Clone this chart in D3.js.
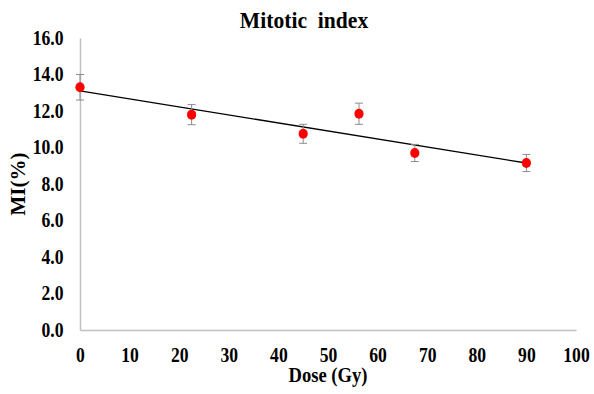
<!DOCTYPE html>
<html>
<head>
<meta charset="utf-8">
<script src="https://cdn.jsdelivr.net/npm/d3@7"></script>
<style>
  body { margin: 0; background: #fff; }
  text { font-family: "Liberation Serif", "Times New Roman", serif; font-weight: bold; fill: #000; }
</style>
</head>
<body>
<svg id="chart" width="594" height="394"></svg>
<script>
// values
const doses = [0, 22.5, 45, 56.25, 67.5, 90]
const miValues = [13.3, 11.8, 10.75, 11.85, 9.7, 9.15]
const miErrors = [0.7, 0.55, 0.52, 0.58, 0.47, 0.47]
const trendDoses = [0, 90]
const trendValues = [13.1, 9.15]
const xTicks = [0, 10, 20, 30, 40, 50, 60, 70, 80, 90, 100]
const yTicks = [0, 2, 4, 6, 8, 10, 12, 14, 16]

const svg = d3.select('#chart')
const margin = { left: 80, right: 18, top: 38, bottom: 64 }
const width = 594, height = 394
const squeeze = 0.88 // the reference font is a bit narrow

const x = d3.scaleLinear().domain([0, 100]).range([margin.left, width - margin.right])
const y = d3.scaleLinear().domain([0, 16]).range([height - margin.bottom, margin.top])

// axes: gray lines, no tick marks
const xAxis = svg.append('g')
    .attr('transform', `translate(0,${y(0)})`)
    .call(d3.axisBottom(x).tickValues(xTicks).tickSize(0).tickPadding(18).tickFormat(d3.format('d')))
xAxis.select('.domain').attr('stroke', '#c0c0c0').attr('stroke-width', 1.5)
xAxis.selectAll('text').style('font-size', '20px').attr('font-family', null)
    .attr('transform', `scale(${squeeze},1)`)

const yAxis = svg.append('g')
    .attr('transform', `translate(${x(0)},0)`)
    .call(d3.axisLeft(y).tickValues(yTicks).tickSize(0).tickPadding(16.5).tickFormat(d3.format('.1f')))
yAxis.select('.domain').attr('stroke', '#c0c0c0').attr('stroke-width', 1.5)
yAxis.selectAll('text').style('font-size', '20px').attr('font-family', null)
    .attr('x', -16.5 / squeeze)
    .attr('transform', `scale(${squeeze},1)`)

// trendline
svg.append('line')
    .attr('x1', x(trendDoses[0])).attr('y1', y(trendValues[0]))
    .attr('x2', x(trendDoses[1])).attr('y2', y(trendValues[1]))
    .attr('stroke', '#000').attr('stroke-width', 1.3)

const pts = doses.map((d, i) => ({ dose: d, mi: miValues[i], err: miErrors[i] }))

// error bars
const eb = svg.append('g').attr('stroke', '#8c8c8c').attr('stroke-width', 1)
eb.selectAll('line.v').data(pts).enter().append('line')
    .attr('x1', d => x(d.dose)).attr('x2', d => x(d.dose))
    .attr('y1', d => y(d.mi + d.err)).attr('y2', d => y(d.mi - d.err))
eb.selectAll('line.top').data(pts).enter().append('line')
    .attr('x1', d => x(d.dose) - 4).attr('x2', d => x(d.dose) + 4)
    .attr('y1', d => y(d.mi + d.err)).attr('y2', d => y(d.mi + d.err))
eb.selectAll('line.bot').data(pts).enter().append('line')
    .attr('x1', d => x(d.dose) - 4).attr('x2', d => x(d.dose) + 4)
    .attr('y1', d => y(d.mi - d.err)).attr('y2', d => y(d.mi - d.err))

// markers
svg.selectAll('ellipse.pt').data(pts).enter().append('ellipse')
    .attr('cx', d => x(d.dose)).attr('cy', d => y(d.mi))
    .attr('rx', 4.6).attr('ry', 5)
    .attr('fill', '#ff0000')

// titles
svg.append('text').attr('transform', 'translate(304,28) scale(0.92,1)').attr('text-anchor', 'middle')
    .style('font-size', '23.5px').style('white-space', 'pre').text('Mitotic  index')
svg.append('text').attr('transform', 'translate(328,382) scale(0.93,1)').attr('text-anchor', 'middle')
    .style('font-size', '20px').text('Dose (Gy)')
svg.append('text').attr('transform', `translate(25,${(y(0) + y(16)) / 2}) rotate(-90)`)
    .attr('text-anchor', 'middle').style('font-size', '21px').text('MI(%)')
</script>
</body>
</html>
